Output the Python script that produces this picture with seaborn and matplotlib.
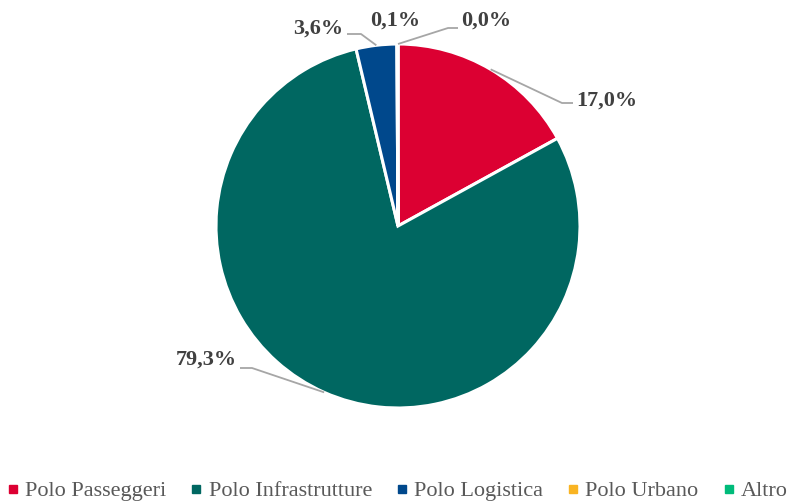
import numpy as np
import matplotlib
matplotlib.use("Agg")
import matplotlib.pyplot as plt
from matplotlib.lines import Line2D
import seaborn as sns

# Data
categories = ["Polo Passeggeri", "Polo Infrastrutture", "Polo Logistica", "Polo Urbano", "Altro"]
shares = [17.0, 79.3, 3.6, 0.1, 0.0]
colors = ["#DC0032", "#006761", "#00488C", "#F9B423", "#00BB7A"]
value_labels = ["17,0%", "79,3%", "3,6%", "0,1%", "0,0%"]

sns.set_theme(style="white")
plt.rcParams["font.family"] = ["Liberation Serif", "DejaVu Serif"]

W, H = 795, 504
fig = plt.figure(figsize=(W / 100, H / 100), dpi=100)
ax = fig.add_axes([0, 0, 1, 1])
ax.set_xlim(0, W)
ax.set_ylim(0, H)
ax.axis("off")

cx, cy, r = 398, H - 226, 182
wedges, _ = ax.pie(
    shares, colors=colors, startangle=90, counterclock=False,
    radius=r, center=(cx, cy), normalize=True,
    wedgeprops=dict(edgecolor="white", linewidth=2.2),
)
ax.set_xlim(0, W)
ax.set_ylim(0, H)

# Label placement: (text x, text y, elbow x, elbow y, end x) in pixel layout, None = no leader
layout = [
    (607, 101, 562, 103, 573),
    (206, 360, 252, 368, 240),
    (318, 29, 361, 34, 347),
    (395, 21, None, None, None),
    (486, 21, 448, 28, 458),
]

cum = np.cumsum([0] + shares[:-1])
total = sum(shares)
for i, (lab, (tx, ty, ex, ey, endx)) in enumerate(zip(value_labels, layout)):
    mid = 90 - (cum[i] + shares[i] / 2) / total * 360
    ax.text(tx, H - ty, lab, ha="center", va="center", fontsize=16,
            fontweight="bold", color="#404040")
    if ex is not None:
        px = cx + r * np.cos(np.radians(mid))
        py = cy + r * np.sin(np.radians(mid))
        ax.plot([px, ex, endx], [py, H - ey, H - ey], color="#A6A6A6",
                lw=1.3, solid_capstyle="butt", zorder=5)

handles = [Line2D([0], [0], marker="s", linestyle="none", markersize=5.5,
                  markerfacecolor=c, markeredgecolor=c) for c in colors]
fig.legend(handles, categories, loc="center", bbox_to_anchor=(0.5, 1 - 491 / H),
           ncol=5, frameon=False, fontsize=16, handletextpad=0.3,
           columnspacing=1.1, handlelength=0.5, labelcolor="#595959")

fig.savefig("out.png", dpi=100, facecolor="white")
